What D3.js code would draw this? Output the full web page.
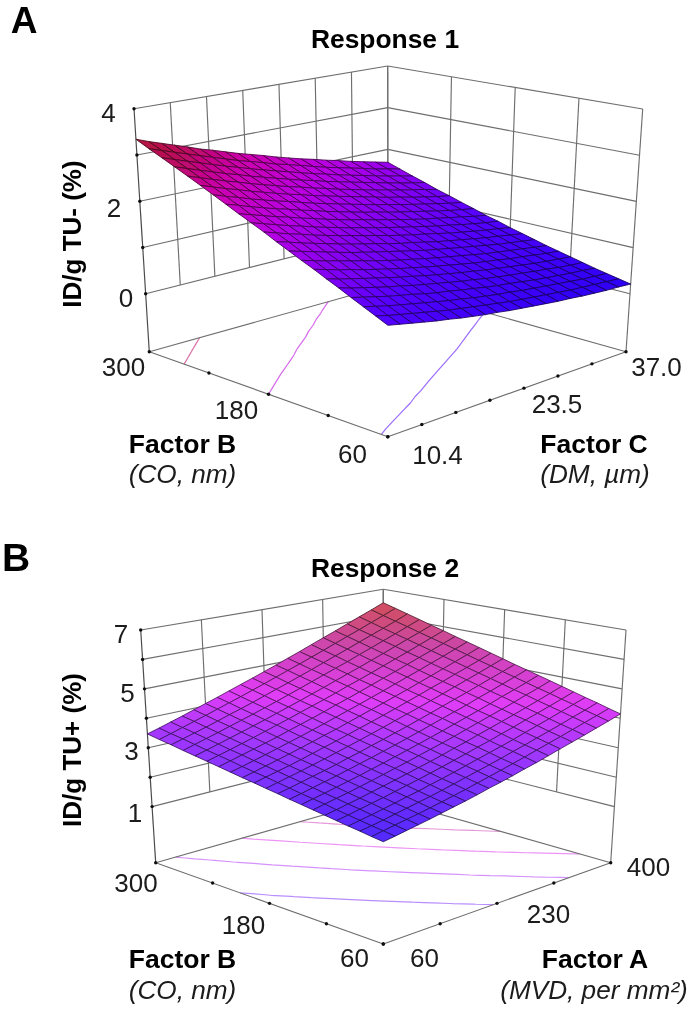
<!DOCTYPE html>
<html><head><meta charset="utf-8">
<script src="https://cdnjs.cloudflare.com/ajax/libs/d3/7.8.5/d3.min.js"></script>
<style>html,body{margin:0;padding:0;background:#fff}svg{display:block}text{font-family:"Liberation Sans",Arial,sans-serif;fill:#1a1a1a}</style>
</head><body><svg id="c" width="693" height="1009"></svg>
<script>
// ---- data ----
const factorBTicks = [300, 240, 180, 120, 60];
const factorBLabels = ["300", "", "180", "", "60"];
const factorCTicks = [10.4, 14.2, 18.0, 21.8, 25.6, 29.4, 33.2, 37.0];
const factorCLabels = ["10.4", "", "", "", "23.5", "", "", "37.0"];
const factorATicks = [60, 145, 230, 315, 400];
const factorALabels = ["60", "", "230", "", "400"];
const response1Ticks = [0, 1, 2, 3, 4];
const response1Labels = ["0", "", "2", "", "4"];
const response2Ticks = [1, 2, 3, 4, 5, 6, 7];
const response2Labels = ["1", "", "3", "", "5", "", "7"];
const response1Levels = [2.95, 2.05, 0.95];
const response2Levels = [2.93, 3.67, 4.43, 5.2];
// rows: Factor B 300 -> 60; columns: second factor low -> high
const response1 = [
[3.34,3.24,3.15,3.06,2.97,2.87,2.79,2.70,2.61,2.53,2.45,2.36,2.28,2.20,2.13,2.05,1.98,1.90,1.83,1.76,1.69],
[3.20,3.11,3.02,2.93,2.84,2.75,2.66,2.57,2.49,2.41,2.32,2.25,2.17,2.09,2.01,1.94,1.87,1.80,1.72,1.66,1.59],
[3.07,2.98,2.89,2.80,2.71,2.62,2.54,2.45,2.37,2.29,2.21,2.13,2.05,1.98,1.90,1.83,1.76,1.69,1.62,1.56,1.49],
[2.94,2.85,2.76,2.67,2.58,2.50,2.41,2.33,2.25,2.17,2.09,2.02,1.94,1.87,1.80,1.73,1.66,1.59,1.52,1.46,1.40],
[2.81,2.72,2.63,2.54,2.46,2.37,2.29,2.21,2.13,2.06,1.98,1.91,1.83,1.76,1.69,1.62,1.56,1.49,1.43,1.37,1.30],
[2.68,2.59,2.50,2.42,2.33,2.25,2.17,2.09,2.02,1.94,1.87,1.80,1.73,1.66,1.59,1.52,1.46,1.39,1.33,1.27,1.22],
[2.55,2.46,2.38,2.29,2.21,2.13,2.06,1.98,1.90,1.83,1.76,1.69,1.62,1.55,1.49,1.42,1.36,1.30,1.24,1.18,1.13],
[2.42,2.34,2.25,2.17,2.09,2.02,1.94,1.87,1.79,1.72,1.65,1.58,1.52,1.45,1.39,1.33,1.27,1.21,1.15,1.10,1.05],
[2.29,2.21,2.13,2.05,1.98,1.90,1.83,1.75,1.68,1.61,1.55,1.48,1.42,1.35,1.29,1.23,1.18,1.12,1.07,1.01,0.96],
[2.17,2.09,2.01,1.93,1.86,1.78,1.71,1.64,1.57,1.51,1.44,1.38,1.32,1.26,1.20,1.14,1.09,1.03,0.98,0.93,0.89],
[2.05,1.97,1.89,1.82,1.74,1.67,1.60,1.54,1.47,1.41,1.34,1.28,1.22,1.17,1.11,1.05,1.00,0.95,0.90,0.86,0.81],
[1.92,1.85,1.77,1.70,1.63,1.56,1.49,1.43,1.37,1.30,1.24,1.19,1.13,1.07,1.02,0.97,0.92,0.87,0.83,0.78,0.74],
[1.80,1.73,1.66,1.59,1.52,1.45,1.39,1.33,1.27,1.21,1.15,1.09,1.04,0.99,0.94,0.89,0.84,0.79,0.75,0.71,0.67],
[1.68,1.61,1.54,1.48,1.41,1.35,1.28,1.22,1.16,1.11,1.05,1.00,0.95,0.90,0.85,0.80,0.76,0.72,0.68,0.64,0.60],
[1.57,1.50,1.43,1.37,1.30,1.24,1.18,1.12,1.07,1.01,0.96,0.91,0.86,0.81,0.77,0.73,0.68,0.65,0.61,0.57,0.54],
[1.45,1.38,1.32,1.26,1.20,1.14,1.08,1.03,0.97,0.92,0.87,0.82,0.78,0.73,0.69,0.65,0.61,0.57,0.54,0.51,0.48],
[1.34,1.27,1.21,1.15,1.09,1.04,0.98,0.93,0.88,0.83,0.78,0.74,0.69,0.65,0.61,0.58,0.54,0.51,0.47,0.44,0.42],
[1.22,1.16,1.10,1.04,0.99,0.94,0.88,0.83,0.79,0.74,0.70,0.65,0.61,0.58,0.54,0.50,0.47,0.44,0.41,0.39,0.36],
[1.11,1.05,0.99,0.94,0.89,0.84,0.79,0.74,0.70,0.65,0.61,0.57,0.54,0.50,0.47,0.44,0.41,0.38,0.35,0.33,0.31],
[1.00,0.94,0.89,0.84,0.79,0.74,0.69,0.65,0.61,0.57,0.53,0.49,0.46,0.43,0.40,0.37,0.34,0.32,0.30,0.28,0.26],
[0.89,0.84,0.79,0.74,0.69,0.65,0.60,0.56,0.52,0.49,0.45,0.42,0.39,0.36,0.33,0.31,0.28,0.26,0.24,0.23,0.21]
];
const response2 = [
[3.47,3.58,3.70,3.82,3.95,4.08,4.21,4.35,4.49,4.63,4.78,4.93,5.09,5.25,5.42,5.59,5.76,5.94,6.12,6.30,6.49],
[3.39,3.50,3.62,3.74,3.86,3.99,4.12,4.25,4.39,4.53,4.68,4.83,4.98,5.14,5.30,5.47,5.64,5.81,5.99,6.17,6.36],
[3.32,3.43,3.54,3.65,3.77,3.90,4.02,4.15,4.29,4.43,4.57,4.72,4.87,5.03,5.19,5.35,5.52,5.69,5.86,6.04,6.23],
[3.24,3.35,3.46,3.57,3.69,3.81,3.93,4.06,4.19,4.33,4.47,4.62,4.77,4.92,5.07,5.24,5.40,5.57,5.74,5.92,6.10],
[3.17,3.27,3.38,3.49,3.60,3.72,3.84,3.97,4.10,4.23,4.37,4.51,4.66,4.81,4.96,5.12,5.28,5.45,5.62,5.79,5.97],
[3.10,3.20,3.30,3.41,3.52,3.64,3.76,3.88,4.01,4.14,4.27,4.41,4.56,4.70,4.85,5.01,5.17,5.33,5.50,5.67,5.85],
[3.03,3.13,3.23,3.33,3.44,3.55,3.67,3.79,3.91,4.04,4.18,4.31,4.45,4.60,4.75,4.90,5.06,5.22,5.38,5.55,5.72],
[2.96,3.05,3.15,3.25,3.36,3.47,3.58,3.70,3.82,3.95,4.08,4.21,4.35,4.49,4.64,4.79,4.94,5.10,5.26,5.43,5.60],
[2.89,2.98,3.08,3.18,3.28,3.39,3.50,3.62,3.73,3.86,3.99,4.12,4.25,4.39,4.53,4.68,4.83,4.99,5.15,5.31,5.48],
[2.83,2.92,3.01,3.10,3.20,3.31,3.42,3.53,3.65,3.77,3.89,4.02,4.15,4.29,4.43,4.58,4.72,4.88,5.03,5.19,5.36],
[2.76,2.85,2.94,3.03,3.13,3.23,3.34,3.45,3.56,3.68,3.80,3.93,4.06,4.19,4.33,4.47,4.62,4.77,4.92,5.08,5.24],
[2.70,2.78,2.87,2.96,3.05,3.15,3.26,3.36,3.48,3.59,3.71,3.83,3.96,4.09,4.23,4.37,4.51,4.66,4.81,4.96,5.12],
[2.63,2.71,2.80,2.89,2.98,3.08,3.18,3.28,3.39,3.50,3.62,3.74,3.87,4.00,4.13,4.26,4.41,4.55,4.70,4.85,5.01],
[2.57,2.65,2.73,2.82,2.91,3.00,3.10,3.20,3.31,3.42,3.53,3.65,3.77,3.90,4.03,4.16,4.30,4.45,4.59,4.74,4.90],
[2.51,2.59,2.67,2.75,2.84,2.93,3.03,3.13,3.23,3.34,3.45,3.56,3.68,3.81,3.94,4.07,4.20,4.34,4.49,4.63,4.79],
[2.45,2.52,2.60,2.68,2.77,2.86,2.95,3.05,3.15,3.25,3.36,3.48,3.59,3.72,3.84,3.97,4.10,4.24,4.38,4.53,4.68],
[2.39,2.46,2.54,2.62,2.70,2.79,2.88,2.97,3.07,3.17,3.28,3.39,3.51,3.62,3.75,3.87,4.01,4.14,4.28,4.42,4.57],
[2.33,2.40,2.47,2.55,2.63,2.72,2.80,2.90,2.99,3.09,3.20,3.31,3.42,3.53,3.65,3.78,3.91,4.04,4.18,4.32,4.46],
[2.28,2.34,2.41,2.49,2.57,2.65,2.73,2.82,2.92,3.02,3.12,3.22,3.33,3.45,3.56,3.69,3.81,3.94,4.08,4.21,4.36],
[2.22,2.29,2.36,2.43,2.50,2.58,2.66,2.75,2.84,2.94,3.04,3.14,3.25,3.36,3.48,3.60,3.72,3.85,3.98,4.11,4.25],
[2.17,2.23,2.30,2.37,2.44,2.52,2.60,2.68,2.77,2.87,2.96,3.06,3.17,3.27,3.39,3.51,3.63,3.75,3.88,4.01,4.15]
];

// ---- drawing ----
const svg = d3.select("#c");
const defs = svg.append("defs");
defs.append("filter").attr("id","soft").attr("x","0").attr("y","0").attr("width","1").attr("height","1")
  .attr("filterUnits","objectBoundingBox")
  .append("feGaussianBlur").attr("stdDeviation",0.5);
const root = svg.append("g").attr("filter","url(#soft)");
root.append("rect").attr("width",693).attr("height",1009).attr("fill","#fff");

function mix(a,b,t){return [a[0]+(b[0]-a[0])*t,a[1]+(b[1]-a[1])*t];}
function panel(o){
  const g = root.append("g");
  const uS = d3.scaleLinear().domain([o.bTicks[0],o.bTicks[o.bTicks.length-1]]).range([0,1]);
  const vS = d3.scaleLinear().domain([o.vTicks[0],o.vTicks[o.vTicks.length-1]]).range([0,1]);
  const wS = d3.scaleLinear().domain(o.zDomain).range([0,1]);
  const c = o.corners;
  const project = (u,v,z)=>{
    const w = wS(z);
    const fl = mix(mix(c.L,c.F,u),mix(c.B,c.R,u),v);
    const tp = mix(mix(c.TL,c.TF,u),mix(c.TB,c.TR,u),v);
    return mix(fl,tp,w);
  };
  const color = d3.scaleLinear().domain(o.colorDomain).range(o.colorRange).interpolate(d3.interpolateRgb);
  const line = d3.line();
  const grid = (pts,w,col)=>g.append("path").attr("d",line(pts)).attr("fill","none")
     .attr("stroke",col||"#6e6e6e").attr("stroke-width",w||1.15);
  const zMin = o.zDomain[0], zMax = o.zDomain[1];
  const zLow = o.zTicks[0];

  // floor contours
  const n = o.values.length, m = o.values[0].length;
  const gu = d3.scaleLinear().domain([0,n-1]).range([0,1]);
  const gv = d3.scaleLinear().domain([0,m-1]).range([0,1]);
  o.levels.forEach(lv=>{
    const col = d3.interpolateRgb(color(lv),"#ffffff")(o.contourLight);
    const segs = [];
    for(let i=0;i<n-1;i++)for(let j=0;j<m-1;j++){
      const q=[[i,j],[i+1,j],[i+1,j+1],[i,j+1]], pts=[];
      for(let k=0;k<4;k++){
        const a=q[k],b=q[(k+1)%4],za=o.values[a[0]][a[1]],zb=o.values[b[0]][b[1]];
        if((za>=lv)!==(zb>=lv)){
          const t=(lv-za)/(zb-za);
          pts.push(project(gu(a[0]+(b[0]-a[0])*t),gv(a[1]+(b[1]-a[1])*t),zMin));
        }
      }
      if(pts.length===2) segs.push(line(pts));
    }
    g.append("path").attr("d",segs.join("")).attr("fill","none").attr("stroke",col).attr("stroke-width",o.contourWidth);
  });

  // floor edges
  grid([project(0,0,zMin),project(0,1,zMin)]);
  grid([project(0,1,zMin),project(1,1,zMin)]);
  grid([project(0,0,zMin),project(1,0,zMin)]);
  grid([project(1,0,zMin),project(1,1,zMin)]);
  // walls: horizontal lines
  o.zTicks.forEach(z=>{
    grid([project(0,0,z),project(0,1,z)]);
    grid([project(0,1,z),project(1,1,z)]);
  });
  // walls: vertical lines
  o.vTicks.forEach((t,i)=>{
    if(i===0) return;
    grid([project(0,vS(t),zLow),project(0,vS(t),zMax)]);
  });
  o.bTicks.forEach((t,i)=>{
    if(i===0) return;
    const edge = i===o.bTicks.length-1;
    grid([project(uS(t),1,edge?zMin:zLow),project(uS(t),1,zMax)]);
  });
  grid([project(0,0,zMin),project(0,0,zMax)],1.2,"#4c4c4c");
  grid([project(0,1,zMin),project(0,1,zMax)]);

  // surface, back to front
  const cells=[];
  for(let i=0;i<n-1;i++)for(let j=m-2;j>=0;j--)cells.push([i,j]);
  g.append("g").selectAll("path").data(cells).join("path")
    .attr("d",([i,j])=>line([[i,j],[i+1,j],[i+1,j+1],[i,j+1]].map(([a,b])=>project(gu(a),gv(b),o.values[a][b])))+"Z")
    .attr("fill",([i,j])=>color(d3.mean([o.values[i][j],o.values[i+1][j],o.values[i+1][j+1],o.values[i][j+1]])))
    .attr("stroke",([i,j])=>d3.interpolateRgb(color(o.values[i][j]),"#000")(o.meshDark))
    .attr("stroke-width",o.meshWidth).attr("stroke-linejoin","round");

  // tick dots
  const dots=[];
  o.zTicks.forEach(z=>dots.push(project(0,0,z)));
  o.bTicks.forEach(t=>dots.push(project(uS(t),0,zMin)));
  o.vTicks.forEach(t=>dots.push(project(1,vS(t),zMin)));
  g.append("g").selectAll("circle").data(dots).join("circle")
    .attr("cx",d=>d[0]).attr("cy",d=>d[1]).attr("r",1.7).attr("fill","#111");

  // text
  const put=(s,x,y,size,extra={})=>{
    const t=g.append("text").text(s).attr("x",x).attr("y",y).attr("font-size",size)
      .attr("text-anchor","middle").attr("fill",extra.fill||"#1f1f1f");
    if(extra.bold)t.style("fill","#000").attr("font-weight","bold");
    if(extra.italic)t.attr("font-style","italic");
    if(extra.rotate)t.attr("transform",`rotate(-90 ${x} ${y})`);
    return t;
  };
  o.texts.forEach(t=>put(t[0],t[1],t[2],t[3],t[4]||{}));
}

const B={bold:true}, I={italic:true}, R={bold:true,rotate:true};
panel({
  values:response1, bTicks:factorBTicks, vTicks:factorCTicks, zTicks:response1Ticks, levels:response1Levels,
  zDomain:[-1.254,4],
  corners:{L:[149.3,351.7],F:[387.8,436.7],B:[388,285],R:[626,351.7],TL:[134,108.7],TF:[388,163.7],TB:[387.7,66],TR:[642.7,109]},
  colorDomain:[0.2,1,2,2.5,3,3.4],
  colorRange:["#2d00f4","#5600ff","#b800e4","#cc00b4","#bc0a5c","#b01a30"],
  contourLight:0.42, contourWidth:1.2, meshDark:0.62, meshWidth:0.85,
  texts:[
    ["A",24,33,37,B],
    ["Response 1",385,48,26.4,B],
    ["ID/g TU- (%)",81,234,26,R],
    [response1Labels[4],108.5,122,26],[response1Labels[2],114,216.7,26],[response1Labels[0],126,307,26],
    [factorBLabels[0],123.5,375.7,26],[factorBLabels[2],236.5,419,26],[factorBLabels[4],352.5,463,26],
    [factorCLabels[0],437.5,464,26],[factorCLabels[4],557,412.7,26],[factorCLabels[7],656.5,375.7,26],
    ["Factor B",182.5,453,26.5,B],["(CO, nm)",182.5,483,26.2,I],
    ["Factor C",594,453,26.5,B],["(DM, µm)",595,483,26.2,I]
  ]
});
panel({
  values:response2, bTicks:factorBTicks, vTicks:factorATicks, zTicks:response2Ticks, levels:response2Levels,
  zDomain:[-0.905,7],
  corners:{L:[155.7,862.7],F:[383.3,944],B:[383,798],R:[610.7,862.7],TL:[140.7,630],TF:[383.3,681],TB:[383.3,589.3],TR:[626,630]},
  colorDomain:[2.17,3.47,4.3,5.5,6.49],
  colorRange:["#5028ff","#a438ff","#e03cf8","#cc46a8","#d25058"],
  contourLight:0.45, contourWidth:1.2, meshDark:0.62, meshWidth:0.85,
  texts:[
    ["B",16,571,39,B],
    ["Response 2",385,577,26.4,B],
    ["ID/g TU+ (%)",81,750,26,R],
    [response2Labels[6],121,643,26],[response2Labels[4],127.5,701.7,26],[response2Labels[2],131.5,760,26],[response2Labels[0],135,821.7,26],
    [factorBLabels[0],136,892.3,26],[factorBLabels[2],243.5,934,26],[factorBLabels[4],354.5,966.7,26],
    [factorALabels[0],424.5,966.7,26],[factorALabels[2],548.5,923,26],[factorALabels[4],648.5,876,26],
    ["Factor B",182.5,968,26.5,B],["(CO, nm)",182.5,999,26.2,I],
    ["Factor A",595,968,26.5,B],["(MVD, per mm²)",594,999,26.2,I]
  ]
});
</script></body></html>
